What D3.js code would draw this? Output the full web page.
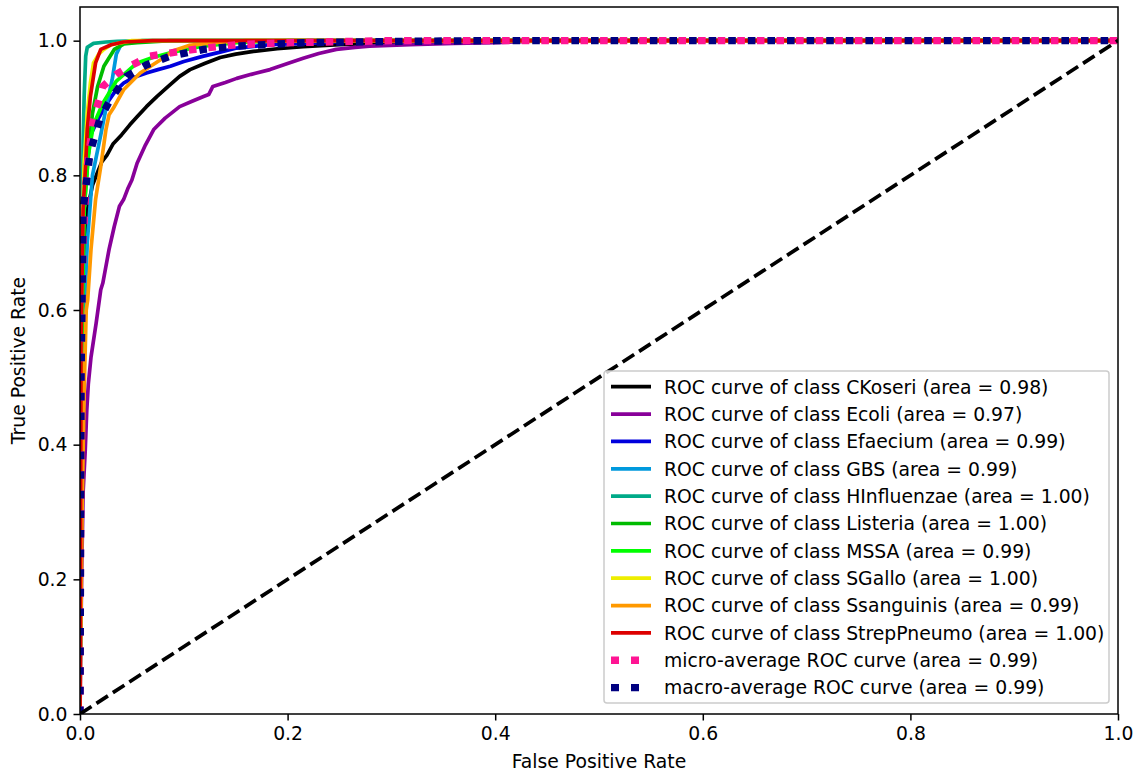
<!DOCTYPE html>
<html>
<head>
<meta charset="utf-8">
<script src="https://cdn.jsdelivr.net/npm/d3@7"></script>
<style>
  body { margin: 0; background: #fff; }
  svg { display: block; font-family: "DejaVu Sans", sans-serif; }
</style>
</head>
<body>
<div id="chartContainer"></div>
<script>
// ROC points per class, [false positive rate, true positive rate]
const ckoseri = [[0,0],[0.001,0.45],[0.003,0.65],[0.006,0.74],[0.012,0.785],[0.017,0.805],[0.021,0.82],[0.026,0.83],[0.032,0.847],[0.04,0.86],[0.048,0.875],[0.055,0.887],[0.064,0.902],[0.074,0.917],[0.085,0.932],[0.096,0.947],[0.106,0.957],[0.12,0.966],[0.135,0.975],[0.15,0.98],[0.167,0.984],[0.19,0.988],[0.215,0.991],[0.25,0.994],[0.28,0.996],[0.33,0.998],[0.4,1],[1,1]];
const ecoli = [[0,0],[0.0015,0.2],[0.003,0.33],[0.005,0.39],[0.0065,0.45],[0.008,0.49],[0.0106,0.53],[0.0155,0.58],[0.02,0.63],[0.022,0.64],[0.025,0.665],[0.028,0.69],[0.033,0.724],[0.038,0.754],[0.042,0.764],[0.046,0.78],[0.05,0.793],[0.055,0.818],[0.063,0.845],[0.071,0.868],[0.082,0.885],[0.096,0.902],[0.108,0.91],[0.119,0.917],[0.124,0.92],[0.128,0.932],[0.14,0.938],[0.151,0.944],[0.165,0.95],[0.183,0.957],[0.2,0.966],[0.215,0.974],[0.23,0.981],[0.247,0.987],[0.265,0.99],[0.279,0.992],[0.318,0.994],[0.36,0.996],[0.4,0.997],[0.45,1],[1,1]];
const efaecium = [[0,0],[0.001,0.5],[0.003,0.7],[0.005,0.784],[0.0096,0.858],[0.018,0.885],[0.026,0.907],[0.034,0.925],[0.042,0.937],[0.05,0.944],[0.055,0.947],[0.064,0.952],[0.075,0.957],[0.087,0.962],[0.1,0.969],[0.119,0.977],[0.135,0.983],[0.151,0.989],[0.183,0.994],[0.231,0.997],[0.27,1],[1,1]];
const gbs = [[0,0],[0.002,0.5],[0.007,0.7],[0.012,0.8],[0.02,0.86],[0.026,0.907],[0.031,0.942],[0.035,0.98],[0.04,0.996],[0.06,1],[1,1]];
const hinfluenzae = [[0,0],[0.001,0.6],[0.003,0.85],[0.004,0.917],[0.0055,0.977],[0.007,0.99],[0.013,0.996],[0.025,0.998],[0.036,0.999],[0.064,1],[1,1]];
const listeria = [[0,0],[0.001,0.5],[0.004,0.75],[0.0087,0.843],[0.012,0.892],[0.017,0.932],[0.023,0.962],[0.033,0.987],[0.042,0.995],[0.055,0.997],[0.087,1],[1,1]];
const mssa = [[0,0],[0.001,0.5],[0.004,0.75],[0.008,0.83],[0.013,0.875],[0.022,0.907],[0.035,0.94],[0.055,0.967],[0.07,0.975],[0.087,0.982],[0.119,0.992],[0.151,0.997],[0.2,1],[1,1]];
const sgallo = [[0,0],[0.001,0.55],[0.002,0.7],[0.004,0.818],[0.007,0.892],[0.01,0.937],[0.013,0.967],[0.018,0.98],[0.023,0.987],[0.03,0.994],[0.05,1],[1,1]];
const ssanguinis = [[0,0],[0.002,0.3],[0.004,0.48],[0.006,0.6],[0.0074,0.615],[0.0106,0.69],[0.015,0.764],[0.02,0.813],[0.025,0.868],[0.028,0.89],[0.033,0.902],[0.042,0.927],[0.058,0.952],[0.078,0.972],[0.09,0.985],[0.105,0.993],[0.13,0.997],[0.16,1],[1,1]];
const streppneumo = [[0,0],[0.001,0.55],[0.003,0.75],[0.0055,0.818],[0.007,0.868],[0.01,0.917],[0.015,0.967],[0.02,0.987],[0.03,0.994],[0.042,0.998],[0.07,1],[1,1]];
const microAvg = [[0,0],[0.001,0.55],[0.003,0.7],[0.0065,0.808],[0.013,0.883],[0.022,0.932],[0.035,0.95],[0.048,0.962],[0.067,0.977],[0.096,0.984],[0.12,0.989],[0.151,0.994],[0.2,0.997],[0.3,1],[1,1]];
const macroAvg = [[0,0],[0.001,0.5],[0.003,0.749],[0.0096,0.833],[0.019,0.883],[0.029,0.912],[0.045,0.947],[0.064,0.964],[0.087,0.977],[0.119,0.987],[0.151,0.992],[0.215,0.997],[0.31,0.999],[0.4,1],[1,1]];

const classNames = ["CKoseri", "Ecoli", "Efaecium", "GBS", "HInfluenzae", "Listeria", "MSSA", "SGallo", "Ssanguinis", "StrepPneumo"];
const classAreas = ["0.98", "0.97", "0.99", "0.99", "1.00", "1.00", "0.99", "1.00", "0.99", "1.00"];
const classCurves = [ckoseri, ecoli, efaecium, gbs, hinfluenzae, listeria, mssa, sgallo, ssanguinis, streppneumo];
const classColors = ["#000000", "#880099", "#0000dd", "#0099dd", "#00aa88", "#00bb00", "#00ff00", "#eeee00", "#ff9900", "#dd0000"];
const microArea = "0.99";
const macroArea = "0.99";
const tickValues = [0, 0.2, 0.4, 0.6, 0.8, 1.0];

const width = 1138, height = 776;
const margin = { left: 80, right: 20, top: 7, bottom: 62 };
const plotW = width - margin.left - margin.right;
const plotH = height - margin.top - margin.bottom;
const fontSize = "18.8px";

const svg = d3.select("#chartContainer")
    .append("svg")
    .attr("width", width)
    .attr("height", height);

// scales
const xScale = d3.scaleLinear().domain([0, 1]).range([margin.left, margin.left + plotW]);
const yScale = d3.scaleLinear().domain([0, 1.05]).range([margin.top + plotH, margin.top]);

svg.append("clipPath").attr("id", "plotClip")
    .append("rect")
    .attr("x", margin.left).attr("y", margin.top)
    .attr("width", plotW).attr("height", plotH);

const line = d3.line().x(d => xScale(d[0])).y(d => yScale(d[1]));
const plot = svg.append("g").attr("clip-path", "url(#plotClip)");

// class curves
classCurves.forEach((curve, i) => {
    plot.append("path")
        .datum(curve)
        .attr("d", line)
        .attr("fill", "none")
        .attr("stroke", classColors[i])
        .attr("stroke-width", 3.7)
        .attr("stroke-linejoin", "round");
});

// micro and macro averages, dotted
const dotted = "7.6 12";
plot.append("path").datum(microAvg).attr("d", line)
    .attr("fill", "none").attr("stroke", "deeppink")
    .attr("stroke-width", 7.4).attr("stroke-dasharray", dotted);
plot.append("path").datum(macroAvg).attr("d", line)
    .attr("fill", "none").attr("stroke", "navy")
    .attr("stroke-width", 7.4).attr("stroke-dasharray", dotted);

// chance diagonal
plot.append("path").datum([[0, 0], [1, 1]]).attr("d", line)
    .attr("fill", "none").attr("stroke", "#000")
    .attr("stroke-width", 3.7).attr("stroke-dasharray", "13.7 5.9");

// frame
svg.append("rect")
    .attr("x", margin.left).attr("y", margin.top)
    .attr("width", plotW).attr("height", plotH)
    .attr("fill", "none").attr("stroke", "#000").attr("stroke-width", 1.5);

// axes
const xAxis = svg.append("g")
    .attr("transform", "translate(0," + (margin.top + plotH) + ")")
    .call(d3.axisBottom(xScale).tickValues(tickValues).tickFormat(d3.format(".1f")).tickSize(6.5).tickPadding(6));
const yAxis = svg.append("g")
    .attr("transform", "translate(" + margin.left + ",0)")
    .call(d3.axisLeft(yScale).tickValues(tickValues).tickFormat(d3.format(".1f")).tickSize(6.5).tickPadding(6));
[xAxis, yAxis].forEach(ax => {
    ax.select(".domain").remove();
    ax.selectAll(".tick line").attr("stroke", "#000").attr("stroke-width", 1.5);
    ax.selectAll(".tick text").attr("fill", "#000").style("font-size", fontSize).style("font-family", "DejaVu Sans");
});

svg.append("text")
    .attr("x", margin.left + plotW / 2).attr("y", 768)
    .attr("text-anchor", "middle")
    .style("font-size", fontSize)
    .text("False Positive Rate");
svg.append("text")
    .attr("transform", "translate(25," + (margin.top + plotH / 2) + ") rotate(-90)")
    .attr("text-anchor", "middle")
    .style("font-size", fontSize)
    .text("True Positive Rate");

// legend
const legendItems = classNames.map((name, i) => ({
    label: "ROC curve of class " + name + " (area = " + classAreas[i] + ")",
    color: classColors[i], dash: null, width: 3.7
}));
legendItems.push({ label: "micro-average ROC curve (area = " + microArea + ")", color: "deeppink", dash: "8 12", width: 7.4 });
legendItems.push({ label: "macro-average ROC curve (area = " + macroArea + ")", color: "navy", dash: "8 12", width: 7.4 });

const legend = svg.append("g").attr("transform", "translate(604,371)");
legend.append("rect")
    .attr("width", 505).attr("height", 332)
    .attr("rx", 3).attr("ry", 3)
    .attr("fill", "#fff").attr("fill-opacity", 0.8)
    .attr("stroke", "#cccccc").attr("stroke-width", 1.5);

legendItems.forEach((item, i) => {
    const y = 15.7 + i * 27.36;
    legend.append("line")
        .attr("x1", 7).attr("x2", item.dash ? 46 : 47)
        .attr("y1", y).attr("y2", y)
        .attr("stroke", item.color)
        .attr("stroke-width", item.width)
        .attr("stroke-dasharray", item.dash);
    legend.append("text")
        .attr("x", 60).attr("y", y + 6.8)
        .style("font-size", fontSize)
        .text(item.label);
});
</script>
</body>
</html>
